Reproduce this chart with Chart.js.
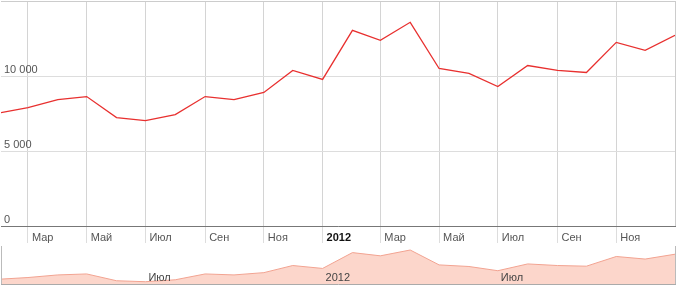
<!DOCTYPE html>
<html>
<head>
<meta charset="utf-8">
<script src="https://cdn.jsdelivr.net/npm/chart.js@4"></script>
<style>
  body { margin: 0; background: #fff; }
  #wrap { position: relative; width: 679px; height: 288px; }
  #main { position: absolute; left: 0; top: 0; }
  #nav { position: absolute; left: 0; top: 243px; }
</style>
</head>
<body>
<div id="wrap">
  <canvas id="main" width="679" height="246"></canvas>
  <canvas id="nav" width="679" height="42"></canvas>
</div>
<script>
// monthly values, Feb 2011 .. Jan 2013
const months = ['2011-02', '2011-03', '2011-04', '2011-05', '2011-06', '2011-07', '2011-08', '2011-09',
  '2011-10', '2011-11', '2011-12', '2012-01', '2012-02', '2012-03', '2012-04', '2012-05',
  '2012-06', '2012-07', '2012-08', '2012-09', '2012-10', '2012-11', '2012-12', '2013-01'];
const values = [7560, 7890, 8430, 8630, 7225, 7025, 7425, 8630, 8430, 8900, 10370, 9770,
  13045, 12380, 13580, 10500, 10170, 9300, 10700, 10370, 10235, 12240, 11710, 12710];

const tickMonths = ['2011-03', '2011-05', '2011-07', '2011-09', '2011-11', '2012-01',
  '2012-03', '2012-05', '2012-07', '2012-09', '2012-11'];
const tickLabels = ['Мар', 'Май', 'Июл', 'Сен', 'Ноя', '2012', 'Мар', 'Май', 'Июл', 'Сен', 'Ноя'];

const navTickMonths = ['2011-07', '2012-01', '2012-07'];
const navTickLabels = ['Июл', '2012', 'Июл'];

const yTicks = [0, 5000, 10000, 15000];

// days since the first month
function dayOf(m) {
  const [y, mo] = m.split('-').map(Number);
  return (Date.UTC(y, mo - 1, 1) - Date.UTC(2011, 1, 1)) / 86400000;
}
const startDay = dayOf(months[0]);
const endDay = dayOf(months[months.length - 1]);
const points = months.map((m, i) => ({ x: dayOf(m), y: values[i] }));

function fmt(v) {
  return String(v).replace(/\B(?=(\d{3})+(?!\d))/g, ' ');
}

// no extra room for the end labels
function noPad(s) {
  s.paddingTop = 0;
  s.paddingBottom = 0;
  s.paddingLeft = 0;
  s.paddingRight = 0;
}

Chart.defaults.font.family = 'Arial, "Liberation Sans", sans-serif';
Chart.defaults.font.size = 11;
Chart.defaults.color = '#444';
Chart.defaults.animation = false;

// lines at the sides of the plot
const sideLines = {
  id: 'sideLines',
  afterDraw(chart, args, opts) {
    const { ctx, chartArea: a } = chart;
    ctx.save();
    ctx.strokeStyle = opts.color;
    ctx.lineWidth = 1;
    ctx.beginPath();
    if (opts.left) {
      ctx.moveTo(a.left + 0.5, a.top + opts.inset);
      ctx.lineTo(a.left + 0.5, a.bottom);
    }
    ctx.moveTo(a.right + 0.5, a.top + opts.inset);
    ctx.lineTo(a.right + 0.5, a.bottom);
    ctx.stroke();
    ctx.restore();
  }
};

// month labels inside the navigator, over the fill
const navLabels = {
  id: 'navLabels',
  afterDatasetsDraw(chart) {
    const { ctx, chartArea: a } = chart;
    const xs = chart.scales.x;
    ctx.save();
    ctx.font = '11px Arial, "Liberation Sans", sans-serif';
    ctx.fillStyle = '#444';
    ctx.textAlign = 'left';
    ctx.textBaseline = 'alphabetic';
    navTickMonths.forEach((m, i) => {
      ctx.fillText(navTickLabels[i], xs.getPixelForValue(dayOf(m)) + 3, a.bottom - 3);
    });
    ctx.restore();
  }
};

new Chart(document.getElementById('main'), {
  type: 'line',
  data: {
    datasets: [{
      data: points,
      borderColor: '#e8302f',
      borderWidth: 1.3,
      pointRadius: 0,
      tension: 0
    }]
  },
  plugins: [sideLines],
  options: {
    responsive: false,
    layout: { padding: { left: 1, right: 4, top: 1, bottom: 0 } },
    plugins: {
      legend: { display: false },
      tooltip: { enabled: false },
      sideLines: { color: '#ccc', inset: 0, left: false }
    },
    scales: {
      x: {
        type: 'linear',
        min: startDay,
        max: endDay,
        afterFit: (s) => { s.height = 20; noPad(s); },
        afterBuildTicks: (s) => { s.ticks = tickMonths.map(m => ({ value: dayOf(m) })); },
        grid: { color: '#d4d4d4', tickLength: 17, tickColor: '#ddd' },
        border: { color: '#777', width: 1 },
        ticks: {
          autoSkip: false,
          maxRotation: 0,
          align: 'start',
          labelOffset: 4,
          padding: -12,
          color: (c) => tickLabels[c.index] === '2012' ? '#111' : '#555',
          font: (c) => ({ weight: tickLabels[c.index] === '2012' ? 'bold' : 'normal' }),
          callback: (v, i) => tickLabels[i]
        }
      },
      y: {
        min: yTicks[0],
        max: yTicks[yTicks.length - 1],
        afterFit: (s) => { s.width = 0; noPad(s); },
        afterBuildTicks: (s) => { s.ticks = yTicks.map(v => ({ value: v })); },
        grid: { color: (c) => c.tick.value === 15000 ? '#ccc' : '#ddd', drawTicks: false },
        border: { display: false },
        ticks: {
          mirror: true,
          padding: 3,
          labelOffset: -6,
          color: '#555',
          callback: (v) => v === 15000 ? '' : fmt(v)
        }
      }
    }
  }
});

new Chart(document.getElementById('nav'), {
  type: 'line',
  data: {
    datasets: [{
      data: points,
      borderColor: '#f2a391',
      backgroundColor: '#fcd6cb',
      borderWidth: 1,
      fill: 'start',
      pointRadius: 0,
      tension: 0
    }]
  },
  plugins: [sideLines, navLabels],
  options: {
    responsive: false,
    layout: { padding: { left: 1, right: 4, top: 0, bottom: 0 } },
    plugins: {
      legend: { display: false },
      tooltip: { enabled: false },
      sideLines: { color: '#bbb', inset: 3, left: true }
    },
    scales: {
      x: {
        type: 'linear',
        min: startDay,
        max: endDay,
        afterFit: (s) => { s.height = 1; noPad(s); },
        grid: { display: false, drawTicks: false },
        border: { color: '#aaa', width: 1 },
        ticks: { display: false }
      },
      y: {
        display: false,
        min: 6550,
        max: 15030
      }
    }
  }
});
</script>
</body>
</html>
